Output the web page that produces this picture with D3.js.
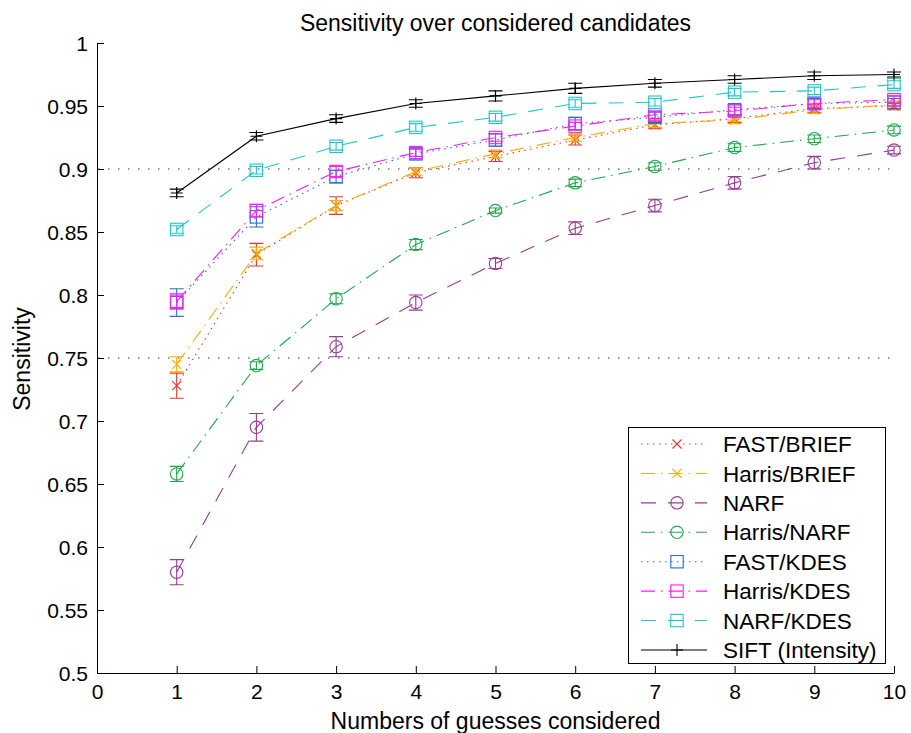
<!DOCTYPE html>
<html>
<head>
<meta charset="utf-8">
<script src="https://cdn.jsdelivr.net/npm/d3@7"></script>
<style>
  html, body { margin: 0; padding: 0; background: #fff; }
  svg text { font-family: "Liberation Sans", Arial, Helvetica, sans-serif; fill: #000; }
</style>
</head>
<body>
<svg id="chart" width="911" height="733"></svg>
<script>
// Number of guesses considered
const guesses = [1, 2, 3, 4, 5, 6, 7, 8, 9, 10];

// Mean sensitivity and error-bar half-widths per method
const fastBrief      = [0.728, 0.832, 0.871, 0.897, 0.910, 0.923, 0.935, 0.940, 0.948, 0.950];
const fastBriefErr   = [0.010, 0.009, 0.007, 0.004, 0.004, 0.004, 0.003, 0.003, 0.003, 0.003];
const harrisBrief    = [0.745, 0.833, 0.871, 0.898, 0.912, 0.925, 0.936, 0.939, 0.947, 0.951];
const harrisBriefErr = [0.006, 0.005, 0.004, 0.003, 0.003, 0.003, 0.003, 0.003, 0.003, 0.003];
const narf           = [0.580, 0.695, 0.759, 0.794, 0.825, 0.853, 0.871, 0.889, 0.905, 0.915];
const narfErr        = [0.010, 0.011, 0.008, 0.006, 0.004, 0.005, 0.005, 0.005, 0.005, 0.003];
const harrisNarf     = [0.658, 0.744, 0.797, 0.840, 0.867, 0.889, 0.902, 0.917, 0.924, 0.931];
const harrisNarfErr  = [0.006, 0.003, 0.004, 0.004, 0.002, 0.003, 0.003, 0.003, 0.003, 0.003];
const fastKdes       = [0.794, 0.862, 0.894, 0.912, 0.923, 0.936, 0.941, 0.947, 0.952, 0.953];
const fastKdesErr    = [0.011, 0.008, 0.005, 0.004, 0.005, 0.005, 0.004, 0.004, 0.004, 0.003];
const harrisKdes     = [0.795, 0.867, 0.898, 0.913, 0.925, 0.934, 0.943, 0.946, 0.952, 0.955];
const harrisKdesErr  = [0.006, 0.005, 0.004, 0.003, 0.003, 0.003, 0.003, 0.003, 0.003, 0.003];
const narfKdes       = [0.852, 0.899, 0.918, 0.933, 0.941, 0.952, 0.953, 0.961, 0.962, 0.967];
const narfKdesErr    = [0.003, 0.003, 0.003, 0.003, 0.003, 0.003, 0.003, 0.003, 0.003, 0.003];
const sift           = [0.881, 0.926, 0.940, 0.952, 0.958, 0.964, 0.968, 0.971, 0.974, 0.975];
const siftErr        = [0.003, 0.003, 0.003, 0.003, 0.004, 0.004, 0.003, 0.003, 0.003, 0.002];

// Tick labels
const xTicks = [0, 1, 2, 3, 4, 5, 6, 7, 8, 9, 10];
const yTicks = [0.5, 0.55, 0.6, 0.65, 0.7, 0.75, 0.8, 0.85, 0.9, 0.95, 1];
const yTickLabels = ["0.5", "0.55", "0.6", "0.65", "0.7", "0.75", "0.8", "0.85", "0.9", "0.95", "1"];
const refLines = [0.75, 0.9];

const series = [
  { name: "FAST/BRIEF",       values: fastBrief,   err: fastBriefErr,   color: "#e8362c", dash: "1.5,4.5",      marker: "x" },
  { name: "Harris/BRIEF",     values: harrisBrief, err: harrisBriefErr, color: "#ffab00", dash: "14,6,1.5,6",   marker: "x" },
  { name: "NARF",             values: narf,        err: narfErr,        color: "#963c98", dash: "15,12",        marker: "o" },
  { name: "Harris/NARF",      values: harrisNarf,  err: harrisNarfErr,  color: "#1ea84a", dash: "14,6,1.5,6",   marker: "o" },
  { name: "FAST/KDES",        values: fastKdes,    err: fastKdesErr,    color: "#2a6cd8", dash: "1.5,4.5",      marker: "s" },
  { name: "Harris/KDES",      values: harrisKdes,  err: harrisKdesErr,  color: "#ff1aff", dash: "14,6,1.5,6",   marker: "s" },
  { name: "NARF/KDES",        values: narfKdes,    err: narfKdesErr,    color: "#1ec8c8", dash: "15,12",        marker: "s" },
  { name: "SIFT (Intensity)", values: sift,        err: siftErr,        color: "#000000", dash: null,           marker: "+" }
];

const svg = d3.select("#chart");
const plotLeft = 97, plotRight = 894, plotTop = 43, plotBottom = 673;

const x = d3.scaleLinear().domain([0, 10]).range([plotLeft, plotRight]);
const y = d3.scaleLinear().domain([0.5, 1]).range([plotBottom, plotTop]);

// Title and axis labels
svg.append("text").attr("x", (plotLeft + plotRight) / 2).attr("y", 31)
  .attr("text-anchor", "middle").style("font-size", "23px")
  .text("Sensitivity over considered candidates");
svg.append("text").attr("x", (plotLeft + plotRight) / 2).attr("y", 729)
  .attr("text-anchor", "middle").style("font-size", "23px")
  .text("Numbers of guesses considered");
svg.append("text").attr("transform", "translate(30,359) rotate(-90)")
  .attr("text-anchor", "middle").style("font-size", "23px")
  .text("Sensitivity");

// Axes with inward ticks
const xAxis = d3.axisBottom(x).tickValues(xTicks).tickSizeInner(-7).tickSizeOuter(0).tickPadding(11).tickFormat(d3.format("d"));
const yAxis = d3.axisLeft(y).tickValues(yTicks).tickSizeInner(-7).tickSizeOuter(0).tickPadding(9)
  .tickFormat((d, i) => yTickLabels[i]);

const gx = svg.append("g").attr("transform", `translate(0,${plotBottom})`).call(xAxis);
const gy = svg.append("g").attr("transform", `translate(${plotLeft},0)`).call(yAxis);
[gx, gy].forEach(g => {
  g.select(".domain").attr("stroke", "#000").attr("stroke-width", 1);
  g.selectAll(".tick line").attr("stroke", "#000");
  g.selectAll(".tick text").style("font-size", "21px").attr("fill", "#000");
});
gy.selectAll(".tick text").attr("dy", "0.36em");

// Dotted reference lines
svg.append("g").selectAll("line").data(refLines).join("line")
  .attr("x1", plotLeft + 1).attr("x2", plotRight)
  .attr("y1", d => y(d)).attr("y2", d => y(d))
  .attr("stroke", "#333").attr("stroke-width", 1.2).attr("stroke-dasharray", "1.5,8.5");

// Marker drawing helper
function drawMarker(g, type, cx, cy, color) {
  if (type === "x") {
    const r = 4.5;
    g.append("path").attr("d", `M${cx - r},${cy - r}L${cx + r},${cy + r}M${cx - r},${cy + r}L${cx + r},${cy - r}`)
      .attr("stroke", color).attr("stroke-width", 1.1).attr("fill", "none");
  } else if (type === "o") {
    g.append("circle").attr("cx", cx).attr("cy", cy).attr("r", 6.2)
      .attr("stroke", color).attr("stroke-width", 1.1).attr("fill", "none");
  } else if (type === "s") {
    g.append("rect").attr("x", cx - 6.2).attr("y", cy - 6.2).attr("width", 12.4).attr("height", 12.4)
      .attr("stroke", color).attr("stroke-width", 1.1).attr("fill", "none");
  } else if (type === "+") {
    const r = 6;
    g.append("path").attr("d", `M${cx - r},${cy}L${cx + r},${cy}M${cx},${cy - r}L${cx},${cy + r}`)
      .attr("stroke", color).attr("stroke-width", 1.1).attr("fill", "none");
  }
}

const line = d3.line().x(d => x(d[0])).y(d => y(d[1]));
const capHalf = 7;

series.forEach(s => {
  const g = svg.append("g");
  const pts = guesses.map((gv, i) => [gv, s.values[i], s.err[i]]);
  g.append("path").datum(pts).attr("d", line)
    .attr("fill", "none").attr("stroke", s.color).attr("stroke-width", 1.1)
    .attr("stroke-dasharray", s.dash);
  pts.forEach(p => {
    const cx = x(p[0]), y0 = y(p[1] - p[2]), y1 = y(p[1] + p[2]);
    g.append("path")
      .attr("d", `M${cx},${y0}L${cx},${y1}M${cx - capHalf},${y0}L${cx + capHalf},${y0}M${cx - capHalf},${y1}L${cx + capHalf},${y1}`)
      .attr("stroke", s.color).attr("stroke-width", 1.1).attr("fill", "none");
    drawMarker(g, s.marker, cx, y(p[1]), s.color);
  });
});

// Legend
const lg = svg.append("g");
const lgLeft = 628, lgTop = 427, lgRight = 885, lgBottom = 663;
lg.append("rect").attr("x", lgLeft + 0.5).attr("y", lgTop + 0.5)
  .attr("width", lgRight - lgLeft).attr("height", lgBottom - lgTop)
  .attr("fill", "#fff").attr("stroke", "#000").attr("stroke-width", 1);
const rowY = d3.scaleLinear().domain([0, series.length - 1]).range([444, 650]);
series.forEach((s, i) => {
  const ry = rowY(i);
  lg.append("line").attr("x1", 641).attr("x2", 707).attr("y1", ry).attr("y2", ry)
    .attr("stroke", s.color).attr("stroke-width", 1.1).attr("stroke-dasharray", s.dash);
  drawMarker(lg, s.marker, 677, ry, s.color);
  lg.append("text").attr("x", 723).attr("y", ry).attr("dy", "0.36em")
    .style("font-size", "22.5px").text(s.name);
});
</script>
</body>
</html>
